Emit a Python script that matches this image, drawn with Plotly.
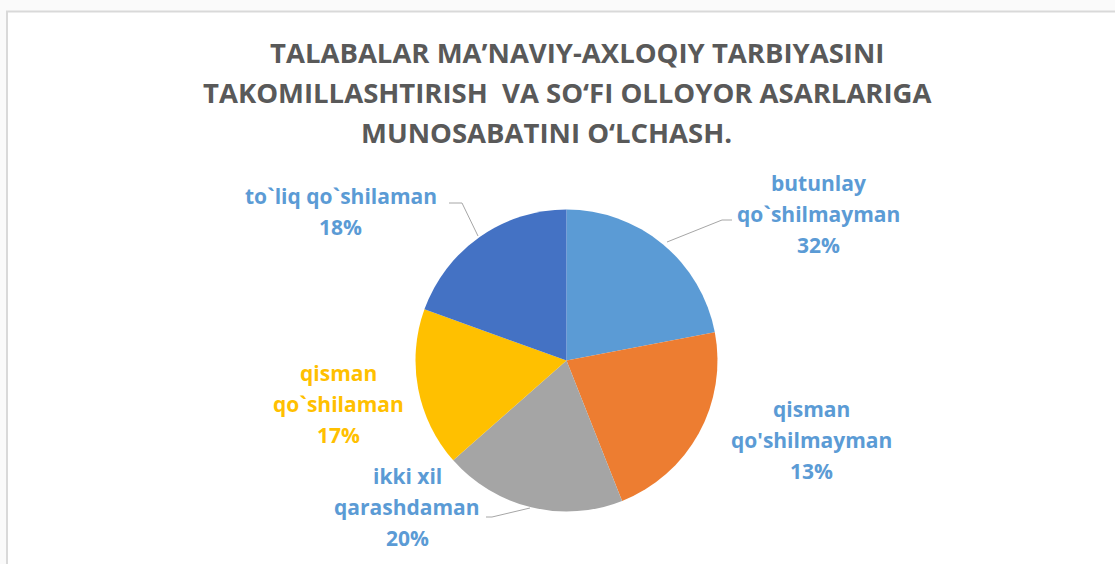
import plotly.graph_objects as go

W, H = 1115, 564

# slice sizes as drawn, and the percentage texts printed on the chart
labels = ['butunlay qo`shilmayman', "qisman qo'shilmayman", 'ikki xil qarashdaman',
          'qisman qo`shilaman', 'to`liq qo`shilaman']
values = [22, 22, 19.5, 17, 19.5]
pct_text = ['32%', '13%', '20%', '17%', '18%']
label_lines = [['butunlay', 'qo`shilmayman'], ['qisman', "qo'shilmayman"],
               ['ikki xil', 'qarashdaman'], ['qisman', 'qo`shilaman'],
               ['to`liq qo`shilaman']]
colors = ['#5B9BD5', '#ED7D31', '#A5A5A5', '#FFC000', '#4472C4']
label_colors = ['#5B9BD5', '#5B9BD5', '#5B9BD5', '#FFC000', '#5B9BD5']

title_lines = ['TALABALAR MA\u2019NAVIY-AXLOQIY TARBIYASINI',
               'TAKOMILLASHTIRISH  VA SO\u2018FI OLLOYOR ASARLARIGA',
               'MUNOSABATINI O\u2018LCHASH.']

# label block layout (pixel centres of first line, line step)
label_pos = [(818, 183), (812, 409), (407, 476), (338, 373), (341, 196)]
LINE_STEP = 31
leaders = {0: [(732, 220), (722, 220), (667, 242)],
           2: [(486, 517), (492, 517), (530, 508)],
           4: [(449, 203), (462, 203), (478, 236)]}

cx, cy, r = 566.5, 360.5, 151


def px(x):
    return x / W


def py(y):
    return 1 - y / H


fig = go.Figure(go.Pie(
    labels=labels, values=values, sort=False, direction='clockwise', rotation=0,
    marker=dict(colors=colors, line=dict(width=0)), textinfo='none',
    hoverinfo='label+percent', showlegend=False,
    domain=dict(x=[px(cx - r), px(cx + r)], y=[py(cy + r), py(cy - r)]),
))

annotations = []
for i, line in enumerate(title_lines):
    annotations.append(dict(
        x=px([577, 567, 546][i]), y=py(52 + 40 * i), xref='paper', yref='paper',
        text=line, showarrow=False, xanchor='center', yanchor='middle',
        font=dict(family='Open Sans', size=27.5, color='#595959', weight='bold')))

for i, lines in enumerate(label_lines):
    x0, y0 = label_pos[i]
    for j, t in enumerate(lines + [pct_text[i]]):
        annotations.append(dict(
            x=px(x0), y=py(y0 + LINE_STEP * j), xref='paper', yref='paper',
            text=t, showarrow=False, xanchor='center', yanchor='middle',
            font=dict(family='Open Sans', size=21, color=label_colors[i], weight='bold')))

shapes = [dict(type='rect', xref='paper', yref='paper', x0=px(7), x1=1.05,
               y0=-0.05, y1=py(11.5), fillcolor='white',
               line=dict(color='#D9D9D9', width=2), layer='below')]
for pts in leaders.values():
    path = 'M ' + ' L '.join(f'{px(a)},{py(b)}' for a, b in pts)
    shapes.append(dict(type='path', xref='paper', yref='paper', path=path,
                       line=dict(color='#A6A6A6', width=1)))

fig.update_layout(
    width=W, height=H, margin=dict(l=0, r=0, t=0, b=0),
    paper_bgcolor='#FAFAFA', plot_bgcolor='white',
    annotations=annotations, shapes=shapes,
)
fig.write_html('out.html', config={'displayModeBar': False},
               post_script="document.body.style.margin='0';")
